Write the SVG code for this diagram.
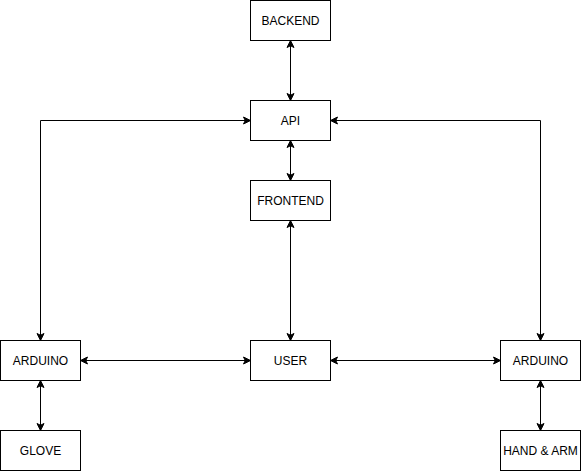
<svg xmlns="http://www.w3.org/2000/svg" width="581" height="471" viewBox="0 0 581 471">
<style>
.node rect{fill:#fff;stroke:#000;stroke-width:1}
.node text{font-family:"Liberation Sans",Arial,sans-serif;font-size:12px;fill:#000;text-anchor:middle;dominant-baseline:central}
.edge{fill:none;stroke:#000;stroke-width:1;marker-start:url(#arr);marker-end:url(#arr)}
</style>
<defs>
<marker id="arr" markerUnits="userSpaceOnUse" markerWidth="10" markerHeight="10" viewBox="0 0 10 10" refX="8" refY="5" orient="auto-start-reverse">
<path d="M1,1.5 L8,5 L1,8.5 L2.75,5 Z" fill="#000" stroke="#000" stroke-width="1"/>
</marker>
</defs>
<rect width="581" height="471" fill="#fff"/>
<g id="connectors">
<path class="edge" d="M290.5,40.5 L290.5,100.5"/>
<path class="edge" d="M290.5,140.5 L290.5,180.5"/>
<path class="edge" d="M290.5,220.5 L290.5,340.5"/>
<path class="edge" d="M250.5,120.5 L40.5,120.5 L40.5,340.5"/>
<path class="edge" d="M330.5,120.5 L540.5,120.5 L540.5,340.5"/>
<path class="edge" d="M80.5,360.5 L250.5,360.5"/>
<path class="edge" d="M330.5,360.5 L500.5,360.5"/>
<path class="edge" d="M40.5,380.5 L40.5,430.5"/>
<path class="edge" d="M540.5,380.5 L540.5,430.5"/>
</g>
<g id="backend" class="node"><rect x="250.5" y="0.5" width="80" height="40"/><text x="290.5" y="20.5">BACKEND</text></g>
<g id="api" class="node"><rect x="250.5" y="100.5" width="80" height="40"/><text x="290.5" y="120.5">API</text></g>
<g id="frontend" class="node"><rect x="250.5" y="180.5" width="80" height="40"/><text x="290.5" y="200.5">FRONTEND</text></g>
<g id="user" class="node"><rect x="250.5" y="340.5" width="80" height="40"/><text x="290.5" y="360.5">USER</text></g>
<g id="arduino-left" class="node"><rect x="0.5" y="340.5" width="80" height="40"/><text x="40.5" y="360.5">ARDUINO</text></g>
<g id="glove" class="node"><rect x="0.5" y="430.5" width="80" height="40"/><text x="40.5" y="450.5">GLOVE</text></g>
<g id="arduino-right" class="node"><rect x="500.5" y="340.5" width="80" height="40"/><text x="540.5" y="360.5">ARDUINO</text></g>
<g id="hand-arm" class="node"><rect x="500.5" y="430.5" width="80" height="40"/><text x="540.5" y="450.5">HAND &amp; ARM</text></g>
</svg>
